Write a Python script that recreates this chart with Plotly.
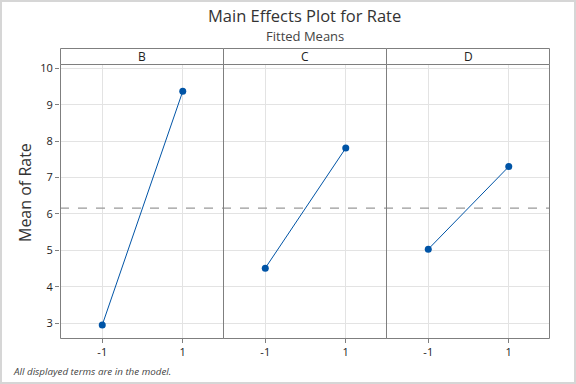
import plotly.graph_objects as go
from plotly.subplots import make_subplots

factors = ["B", "C", "D"]
levels = [-1, 1]
means = {
    "B": [2.95, 9.37],
    "C": [4.51, 7.81],
    "D": [5.03, 7.30],
}
grand_mean = 6.16
y_ticks = [3, 4, 5, 6, 7, 8, 9, 10]
x_tick_labels = ["-1", "1"]

W, H = 576, 384
L, R, T, B = 60, 27, 64, 46
pw = W - L - R
ph = H - T - B
hx = 0.5 / pw  # half-pixel offsets for crisp 1px lines
hy = 0.5 / ph

fig = make_subplots(rows=1, cols=3, shared_yaxes=True, horizontal_spacing=0)
line_col = "#0054A6"
frame_col = "#7f7f7f"
for i, f in enumerate(factors):
    fig.add_trace(go.Scatter(
        x=levels, y=means[f], mode="lines+markers",
        line=dict(color=line_col, width=1),
        marker=dict(color=line_col, size=7),
        showlegend=False, hoverinfo="x+y"), row=1, col=i + 1)
    fig.update_xaxes(range=[-2.05, 2.0], tickvals=levels, ticktext=x_tick_labels,
                     showgrid=True, gridcolor="#e3e3e3", gridwidth=1,
                     showline=False,
                     ticks="outside", ticklen=4, tickcolor=frame_col,
                     tickfont=dict(size=11, color="#222"), zeroline=False,
                     row=1, col=i + 1)

fig.update_yaxes(range=[2.59, 10.12], tickvals=y_ticks,
                 showgrid=True, gridcolor="#e3e3e3", gridwidth=1,
                 showline=False, zeroline=False)
fig.update_yaxes(ticks="outside", ticklen=4, tickcolor=frame_col,
                 tickfont=dict(size=11, color="#222"), row=1, col=1)

# y-axis title (centred on panels incl. strip)
fig.add_annotation(xref="paper", yref="paper", x=-(L - 25) / pw, y=1 - (193 - T) / ph,
                   text="Mean of Rate", textangle=-90, showarrow=False,
                   font=dict(size=16, color="#333"), xanchor="center", yanchor="middle")

# grand mean dashed line
fig.add_shape(type="line", xref="paper", yref="y", x0=0, x1=1, y0=grand_mean, y1=grand_mean,
              line=dict(color="#999999", width=1.2, dash="dash"), layer="above")

# panel frames and strip headers
strip_h = 16 / ph
for i, f in enumerate(factors):
    x0 = i / 3 + hx
    x1 = (i + 1) / 3 + hx
    fig.add_shape(type="rect", xref="paper", yref="paper", x0=x0, x1=x1, y0=-hy, y1=1 - hy,
                  line=dict(color=frame_col, width=1), layer="above")
    fig.add_shape(type="rect", xref="paper", yref="paper", x0=x0, x1=x1,
                  y0=1 - hy, y1=1 + strip_h - hy,
                  line=dict(color=frame_col, width=1), fillcolor="white")
    fig.add_annotation(xref="paper", yref="paper", x=(x0 + x1) / 2, y=1 + strip_h / 2,
                       text=f, showarrow=False, font=dict(size=12, color="#222"),
                       xanchor="center", yanchor="middle")

# outer border
fig.add_shape(type="rect", xref="paper", yref="paper",
              x0=-(L - 1) / pw, x1=1 + (R - 1) / pw, y0=-(B - 1) / ph, y1=1 + (T - 1) / ph,
              line=dict(color="#d6d6d6", width=2))

# titles
fig.add_annotation(xref="paper", yref="paper", x=0.5, y=1 + (T - 15.5) / ph,
                   text="Main Effects Plot for Rate", showarrow=False,
                   font=dict(size=16.5, color="#333"), xanchor="center", yanchor="middle")
fig.add_annotation(xref="paper", yref="paper", x=0.5, y=1 + (T - 35.5) / ph,
                   text="Fitted Means", showarrow=False,
                   font=dict(size=13, color="#444"), xanchor="center", yanchor="middle")
# footnote
fig.add_annotation(xref="paper", yref="paper", x=-(L - 11) / pw, y=-(371 - (H - B)) / ph,
                   text="<i>All displayed terms are in the model.</i>", showarrow=False,
                   font=dict(size=9.8, color="#444"), xanchor="left", yanchor="middle")

fig.update_layout(width=W, height=H, margin=dict(l=L, r=R, t=T, b=B),
                  paper_bgcolor="white", plot_bgcolor="white",
                  font=dict(family="Open Sans, sans-serif"))

fig.write_html("out.html", config={"displayModeBar": False},
               post_script="document.body.style.margin='0';")
